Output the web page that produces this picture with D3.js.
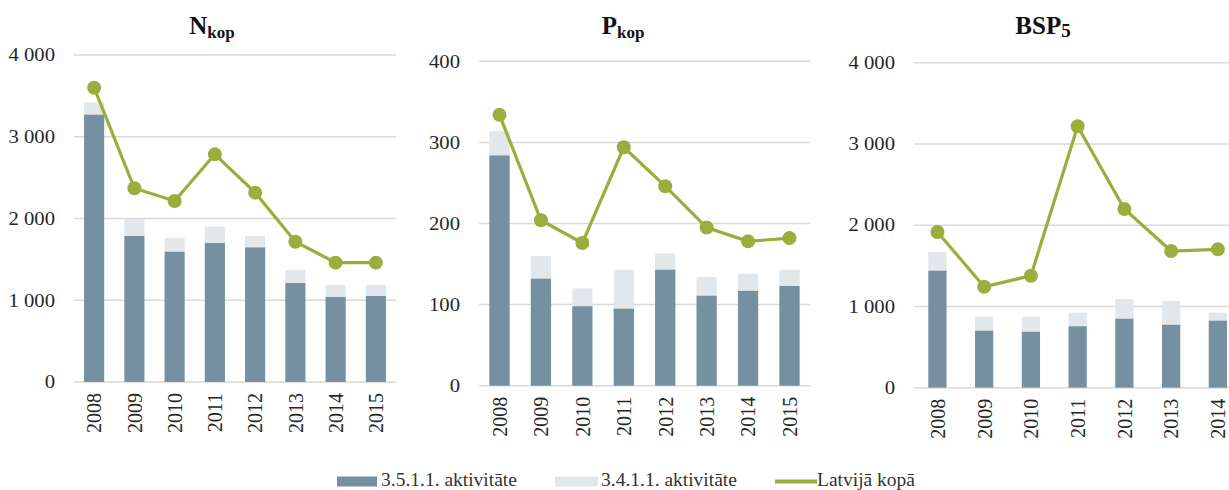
<!DOCTYPE html>
<html><head><meta charset="utf-8">
<script src="https://cdn.jsdelivr.net/npm/d3@7"></script>
<style>
body{margin:0;background:#fff;}
svg{display:block;}
svg text{font-family:"Liberation Serif","Times New Roman",serif !important;}
</style></head>
<body><svg id="c" width="1229" height="490"></svg>
<script>
// ---- data ----
const yearsA = ["2008","2009","2010","2011","2012","2013","2014","2015"];
const yearsB = ["2008","2009","2010","2011","2012","2013","2014"];

const nDark  = [3270, 1786, 1594, 1700, 1647, 1211, 1040, 1052];
const nTotal = [3420, 1994, 1761, 1900, 1786, 1370, 1187, 1187];
const nLine  = [3600, 2370, 2214, 2785, 2316, 1716, 1460, 1460];
const nTicks = [0, 1000, 2000, 3000, 4000];

const pDark  = [284, 132, 98, 95, 143, 111, 117, 123];
const pTotal = [314, 160, 120, 143, 163, 134, 138, 143];
const pLine  = [334, 204, 176, 294, 246, 195, 178, 182];
const pTicks = [0, 100, 200, 300, 400];

const bDark  = [1440, 702, 689, 756, 849, 775, 825];
const bTotal = [1670, 874, 874, 923, 1092, 1067, 923];
const bLine  = [1916, 1243, 1378, 3217, 2199, 1682, 1703];
const bTicks = [0, 1000, 2000, 3000, 4000];

const legendLabels = ["3.5.1.1. aktivitāte", "3.4.1.1. aktivitāte", "Latvijā kopā"];

const C_DARK = "#7590a1", C_LIGHT = "#e1e7eb", C_GREEN = "#9cad3e", C_GRID = "#d9d9d9";
const fmt = d3.formatLocale({decimal:",", thousands:" ", grouping:[3], currency:["",""]}).format(",d");

const svg = d3.select("#c");

const panels = [
  {main:"N", sub:"kop", years:yearsA, dark:nDark, total:nTotal, line:nLine, ticks:nTicks, max:4000,
   x0:74, x1:396, y0:382, y1:55, pi:0.5, po:0.25, labelX:55, titleX:212},
  {main:"P", sub:"kop", years:yearsA, dark:pDark, total:pTotal, line:pLine, ticks:pTicks, max:400,
   x0:479, x1:810, y0:385.7, y1:61.3, pi:0.51, po:0.25, labelX:460, titleX:623},
  {main:"BSP", sub:"5", years:yearsB, dark:bDark, total:bTotal, line:bLine, ticks:bTicks, max:4000,
   x0:914.3, x1:1241, y0:387.7, y1:62.7, pi:0.61, po:0.3, labelX:895, titleX:1043, numSub:true}
];

panels.forEach(p => {
  const g = svg.append("g");
  const x = d3.scaleBand().domain(p.years).range([p.x0, p.x1]).paddingInner(p.pi).paddingOuter(p.po);
  const y = d3.scaleLinear().domain([0, p.max]).range([p.y0, p.y1]);

  // gridlines
  g.selectAll("line.grid").data(p.ticks).join("line")
    .attr("x1", p.x0).attr("x2", Math.min(p.x1, 1229))
    .attr("y1", d => y(d)).attr("y2", d => y(d))
    .attr("stroke", C_GRID).attr("stroke-width", 1.5);

  // y axis labels
  const ya = d3.axisLeft(y).tickValues(p.ticks).tickSize(0).tickFormat(fmt);
  const yg = g.append("g").attr("transform", `translate(${p.labelX},0)`).call(ya);
  yg.select(".domain").remove();
  yg.selectAll("text").attr("x", 0).attr("font-size", 18).attr("fill", "#262626")
    .attr("transform", "scale(1.15,1)");

  // bars
  const idx = d3.range(p.years.length);
  g.selectAll("rect.light").data(idx).join("rect")
    .attr("x", i => x(p.years[i])).attr("width", x.bandwidth())
    .attr("y", i => y(p.total[i])).attr("height", i => y(p.dark[i]) - y(p.total[i]))
    .attr("fill", C_LIGHT);
  g.selectAll("rect.dark").data(idx).join("rect")
    .attr("x", i => x(p.years[i])).attr("width", x.bandwidth())
    .attr("y", i => y(p.dark[i])).attr("height", i => y(0) - y(p.dark[i]))
    .attr("fill", C_DARK);

  // line
  const cx = i => x(p.years[i]) + x.bandwidth() / 2;
  g.append("path").datum(idx)
    .attr("d", d3.line().x(cx).y(i => y(p.line[i])))
    .attr("fill", "none").attr("stroke", C_GREEN).attr("stroke-width", 3.2);
  g.selectAll("circle").data(idx).join("circle")
    .attr("cx", cx).attr("cy", i => y(p.line[i])).attr("r", 7)
    .attr("fill", C_GREEN);

  // x axis labels
  const xa = d3.axisBottom(x).tickSize(0);
  const xg = g.append("g").attr("transform", `translate(0,${p.y0})`).call(xa);
  xg.select(".domain").remove();
  xg.selectAll("text")
    .attr("font-size", 20).attr("fill", "#262626")
    .attr("text-anchor", "end")
    .attr("transform", "rotate(-90) scale(1,1.05)")
    .attr("x", -11).attr("y", 0).attr("dy", "0.35em");

  // title
  const t = g.append("text").attr("x", p.titleX).attr("y", 34)
    .attr("text-anchor", "middle").attr("font-weight", "bold").attr("fill", "#111");
  t.append("tspan").attr("font-size", 25).text(p.main);
  t.append("tspan").attr("font-size", p.numSub ? 19 : 17).attr("dy", p.numSub ? 3 : 4).text(p.sub);
});

// legend
const lg = svg.append("g").attr("font-size", 19.5).attr("fill", "#333");
const base = 485.5;
lg.append("rect").attr("x", 337).attr("y", 476.5).attr("width", 40).attr("height", 10).attr("fill", C_DARK);
lg.append("text").attr("x", 381).attr("y", base).text(legendLabels[0]);
lg.append("rect").attr("x", 555).attr("y", 476.5).attr("width", 43).attr("height", 10).attr("fill", C_LIGHT);
lg.append("text").attr("x", 601).attr("y", base).text(legendLabels[1]);
lg.append("line").attr("x1", 775).attr("x2", 817).attr("y1", 481.5).attr("y2", 481.5)
  .attr("stroke", C_GREEN).attr("stroke-width", 4);
lg.append("text").attr("x", 817).attr("y", base).text(legendLabels[2]);
</script></body></html>
